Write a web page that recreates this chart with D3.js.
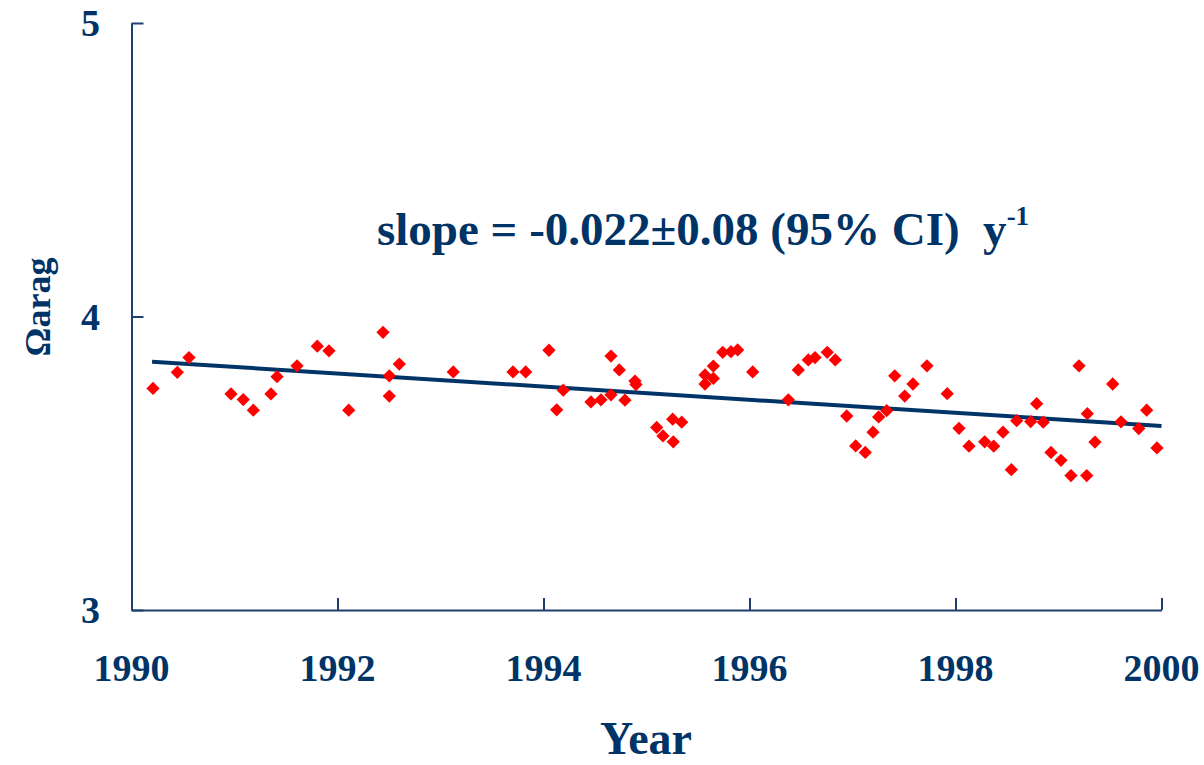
<!DOCTYPE html>
<html>
<head>
<meta charset="utf-8">
<script src="https://cdn.jsdelivr.net/npm/d3@7"></script>
<style>
  html, body { margin: 0; padding: 0; background: #fff; }
  svg { display: block; }
  text { font-family: "Liberation Serif", "Times New Roman", serif; font-weight: bold; fill: #003366; }
</style>
</head>
<body>
<svg id="chart" width="1204" height="765"></svg>
<script>
// Observation times (decimal year) and aragonite saturation state
const years = [
  1990.209, 1990.445, 1990.558, 1990.966, 1991.085, 1991.183, 1991.354, 1991.413,
  1991.607, 1991.804, 1991.917, 1992.109, 1992.442, 1992.503, 1992.503, 1992.600,
  1993.124, 1993.704, 1993.827, 1994.053, 1994.128, 1994.192, 1994.461, 1994.558,
  1994.655, 1994.655, 1994.736, 1994.791, 1994.888, 1994.898, 1995.099, 1995.160,
  1995.260, 1995.254, 1995.342, 1995.568, 1995.568, 1995.649, 1995.649, 1995.740,
  1995.820, 1995.885, 1996.031, 1996.377, 1996.474, 1996.571, 1996.636, 1996.755,
  1996.833, 1996.944, 1997.031, 1997.124, 1997.199, 1997.254, 1997.332, 1997.410,
  1997.507, 1997.587, 1997.723, 1997.920, 1998.034, 1998.131, 1998.283, 1998.371,
  1998.461, 1998.542, 1998.594, 1998.730, 1998.788, 1998.852, 1998.927, 1999.024,
  1999.121, 1999.199, 1999.274, 1999.280, 1999.354, 1999.526, 1999.607, 1999.779,
  1999.856, 1999.956
];
const omegaArag = [
  3.755, 3.810, 3.860, 3.736, 3.717, 3.681, 3.736, 3.795,
  3.832, 3.899, 3.883, 3.681, 3.946, 3.798, 3.729, 3.838,
  3.811, 3.811, 3.811, 3.885, 3.682, 3.749, 3.709, 3.716,
  3.865, 3.733, 3.818, 3.715, 3.780, 3.768, 3.622, 3.593,
  3.573, 3.650, 3.640, 3.770, 3.801, 3.831, 3.789, 3.878,
  3.880, 3.886, 3.811, 3.716, 3.818, 3.852, 3.860, 3.878,
  3.852, 3.661, 3.559, 3.537, 3.606, 3.658, 3.679, 3.798,
  3.729, 3.770, 3.832, 3.737, 3.619, 3.558, 3.573, 3.558,
  3.606, 3.478, 3.645, 3.642, 3.703, 3.640, 3.537, 3.510,
  3.458, 3.832, 3.458, 3.669, 3.572, 3.770, 3.641, 3.618,
  3.681, 3.552
];

// Linear trend end points
const trendYears = [1990.2, 2000.0];
const trendValues = [3.846, 3.627];

const xTicks = [1990, 1992, 1994, 1996, 1998, 2000];
const yTicks = [3, 4, 5];

const navy = "#003366";
const axisColor = "#1f3f6f";

const svg = d3.select("#chart");
const x = d3.scaleLinear().domain([1990, 2000]).range([131.5, 1161.5]);
const y = d3.scaleLinear().domain([3, 5]).range([610, 23]);

// Axes: ticks pointing inward
const xAxis = d3.axisBottom(x).tickValues(xTicks).tickSizeInner(-12).tickSizeOuter(0).tickFormat("");
const yAxis = d3.axisLeft(y).tickValues(yTicks).tickSizeInner(-12).tickSizeOuter(0).tickFormat("");

const gx = svg.append("g").attr("transform", `translate(0,${y(3)})`).call(xAxis);
const gy = svg.append("g").attr("transform", `translate(${x(1990)},0)`).call(yAxis);
[gx, gy].forEach(g => {
  g.selectAll("path, line").attr("stroke", axisColor).attr("stroke-width", 2);
});

// Tick labels
svg.append("g").selectAll("text").data(xTicks).join("text")
  .attr("x", d => x(d)).attr("y", 681)
  .attr("text-anchor", "middle").attr("font-size", 38)
  .text(d => d);
svg.append("g").selectAll("text").data(yTicks).join("text")
  .attr("x", 100).attr("y", d => y(d) + 13)
  .attr("text-anchor", "end").attr("font-size", 38)
  .text(d => d);

// Axis titles
svg.append("text").attr("x", 646).attr("y", 754)
  .attr("text-anchor", "middle").attr("font-size", 46).text("Year");
svg.append("text")
  .attr("transform", "translate(50,307) rotate(-90)")
  .attr("text-anchor", "middle").attr("font-size", 36).text("Ωarag");

// Trend line
const trend = trendYears.map((t, i) => [t, trendValues[i]]);
svg.append("path").datum(trend)
  .attr("fill", "none").attr("stroke", navy).attr("stroke-width", 4)
  .attr("d", d3.line().x(d => x(d[0])).y(d => y(d[1])));

// Observations as red diamonds
const diamond = d3.symbol().type(d3.symbolSquare).size(88);
svg.append("g").selectAll("path").data(years.map((t, i) => [t, omegaArag[i]])).join("path")
  .attr("d", diamond)
  .attr("transform", d => `translate(${x(d[0])},${y(d[1])}) rotate(45)`)
  .attr("fill", "#ff0000");

// Trend annotation
const note = svg.append("text").attr("x", 377).attr("y", 245)
  .attr("font-size", 47).attr("xml:space", "preserve").style("white-space", "pre");
note.append("tspan").text("slope = -0.022±0.08 (95% CI)  y");
note.append("tspan").attr("dy", -20).attr("font-size", 27).text("-1");
</script>
</body>
</html>
